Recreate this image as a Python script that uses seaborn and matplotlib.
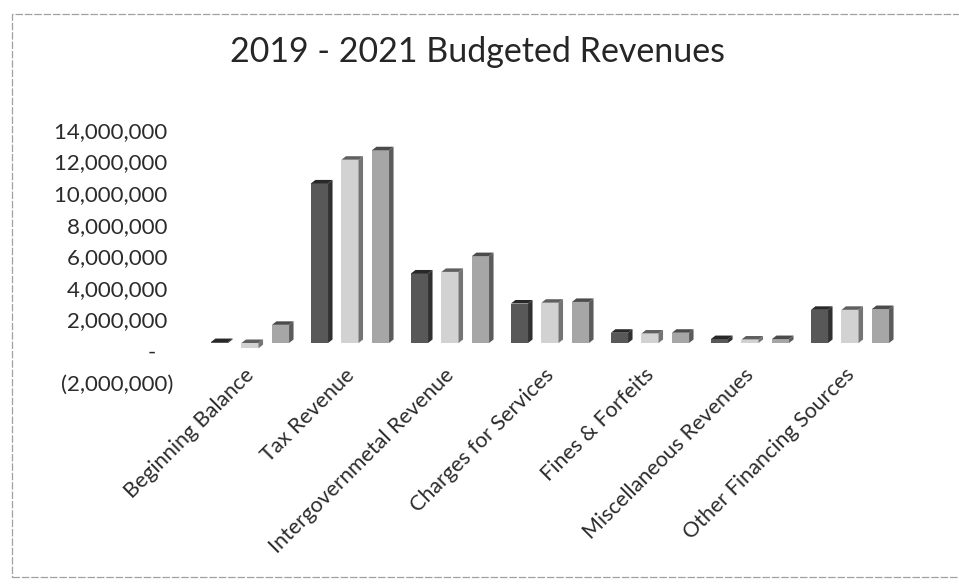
import numpy as np
import pandas as pd
import matplotlib
matplotlib.use("Agg")
import matplotlib.pyplot as plt
import matplotlib.colors as mcolors
import seaborn as sns
from matplotlib.patches import Polygon, Rectangle
from matplotlib.ticker import FuncFormatter, MultipleLocator
from matplotlib.transforms import ScaledTranslation

# Revenue categories and budgeted amounts per fiscal year
categories = [
    "Beginning Balance",
    "Tax Revenue",
    "Intergovernmetal Revenue",
    "Charges for Services",
    "Fines & Forfeits",
    "Miscellaneous Revenues",
    "Other Financing Sources",
]
years = ["2019", "2020", "2021"]
rev_2019 = [60000, 10100000, 4400000, 2500000, 650000, 250000, 2100000]
rev_2020 = [-330000, 11600000, 4500000, 2550000, 600000, 220000, 2100000]
rev_2021 = [1150000, 12200000, 5500000, 2600000, 650000, 250000, 2150000]
year_colors = ["#585858", "#d2d2d2", "#a6a6a6"]

df = pd.DataFrame({
    "category": categories * 3,
    "year": np.repeat(years, len(categories)),
    "value": rev_2019 + rev_2020 + rev_2021,
})

sns.set_theme(style="white")
plt.rcParams["font.family"] = ["Lato", "DejaVu Sans"]

W, H = 959, 587
fig = plt.figure(figsize=(W / 100, H / 100), dpi=100)
fig.patch.set_facecolor("white")

ax_left, ax_right = 190, 910
ax_bottom, ax_top = 374.6, 121.8
ax = fig.add_axes([ax_left / W, 1 - ax_bottom / H,
                   (ax_right - ax_left) / W, (ax_bottom - ax_top) / H])

palette = dict(zip(years, year_colors))
sns.barplot(data=df, x="category", y="value", hue="year", order=categories,
            hue_order=years, palette=palette, width=0.915, gap=0.44,
            saturation=1, linewidth=0, errorbar=None, legend=False, ax=ax)

ax.set_xlim(-0.6, 6.6)
ax.set_ylim(-2_000_000, 14_000_000)

# Pseudo-3D depth: side and top faces derived from each bar's geometry
px_x = (ax.get_xlim()[1] - ax.get_xlim()[0]) / (ax_right - ax_left)
px_y = (ax.get_ylim()[1] - ax.get_ylim()[0]) / (ax_bottom - ax_top)
dx, dy = 4.5 * px_x, 3.5 * px_y

def shade(color, f):
    r, g, b = mcolors.to_rgb(color)
    return (r * f, g * f, b * f)

for bar in list(ax.patches):
    x0, w = bar.get_x(), bar.get_width()
    y0, h = bar.get_y(), bar.get_height()
    if w == 0:
        continue
    lo, hi = min(y0, y0 + h), max(y0, y0 + h)
    face = bar.get_facecolor()
    side = Polygon([(x0 + w, lo), (x0 + w + dx, lo + dy),
                    (x0 + w + dx, hi + dy), (x0 + w, hi)],
                   closed=True, facecolor=shade(face, 0.55), edgecolor="none")
    top = Polygon([(x0, hi), (x0 + dx, hi + dy), (x0 + w + dx, hi + dy),
                   (x0 + w, hi)],
                  closed=True, facecolor=shade(face, 0.45), edgecolor="none")
    ax.add_patch(side)
    ax.add_patch(top)

def accounting(v, pos):
    if abs(v) < 1:
        return "-   "
    if v < 0:
        return f"({abs(v):,.0f})"
    return f"{v:,.0f} "

ax.yaxis.set_major_locator(MultipleLocator(2_000_000))
ax.yaxis.set_major_formatter(FuncFormatter(accounting))
ax.set_xlabel("")
ax.set_ylabel("")
for s in ax.spines.values():
    s.set_visible(False)
ax.grid(False)
ax.tick_params(axis="y", length=0, pad=12, labelsize=16, labelcolor="#2b2b2b")
ax.tick_params(axis="x", length=0, pad=-2, labelsize=15.5, labelcolor="#2b2b2b")

# Value labels sit on the back wall, slightly below the floor line of the bars
shift = ScaledTranslation(0, -8 / 100, fig.dpi_scale_trans)
for lab in ax.get_yticklabels():
    lab.set_transform(lab.get_transform() + shift)

xshift = ScaledTranslation(-6 / 100, 7 / 100, fig.dpi_scale_trans)
for lab in ax.get_xticklabels():
    lab.set_rotation(45)
    lab.set_ha("right")
    lab.set_va("top")
    lab.set_rotation_mode("anchor")
    lab.set_transform(lab.get_transform() + xshift)

fig.text(478 / W, 1 - 62 / H, "2019 - 2021 Budgeted Revenues",
         ha="center", va="baseline", fontsize=24.5, color="#262626")

# Chart frame
fig.patches.append(Rectangle((12 / W, 1 - 577 / H), (980 - 12) / W, (577 - 14) / H,
                             transform=fig.transFigure, fill=False,
                             edgecolor="#a0a0a0", linewidth=0.9,
                             linestyle=(0, (6, 1.5))))

fig.savefig("out.png", dpi=100, facecolor="white")
